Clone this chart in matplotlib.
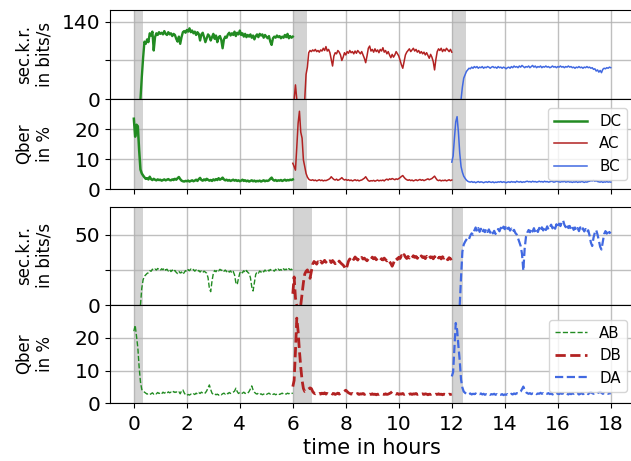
import numpy as np
import matplotlib
matplotlib.use("Agg")
import matplotlib.pyplot as plt

STEP = 0.05  # hours between samples

# ---------------- top group: DC / AC / BC ----------------
dc_sec_start = 0.25
dc_sec = [0, 40, 75, 104, 100,
          108, 103, 119, 115, 122, 88, 112, 119, 116, 121,
          118, 120, 117, 123, 118, 116, 121, 117, 119, 114,
          118, 116, 109, 104, 113, 100, 112, 121, 123, 120,
          125, 122, 128, 121, 124, 119, 122, 116, 121, 118,
          106, 117, 120, 112, 103, 110, 117, 114, 106, 112,
          118, 109, 115, 103, 112, 114, 107, 92, 108, 113,
          111, 117, 120, 115, 119, 116, 122, 114, 120, 117,
          124, 116, 119, 113, 118, 112, 116, 113, 117, 111,
          115, 108, 114, 117, 112, 118, 115, 117, 111, 116,
          113, 110, 114, 104, 98, 110, 113, 111, 115, 112,
          114, 110, 113, 111, 116, 112, 118, 110, 114, 111,
          113]

ac_sec_start = 6.00
ac_sec = [np.nan, 0, 26, 0, np.nan, np.nan, np.nan, np.nan, np.nan, 0,
          45, 58, 84, 88, 86, 89, 87, 90, 86, 88,
          85, 89, 87, 92, 88, 95, 87, 90, 84, 72,
          60, 78, 84, 82, 88, 85, 80, 70, 76, 84,
          80, 86, 83, 88, 84, 86, 82, 87, 83, 88,
          85, 82, 86, 80, 74, 66, 78, 92, 96, 87,
          90, 85, 91, 86, 89, 84, 90, 87, 93, 85,
          88, 82, 86, 80, 75, 81, 76, 80, 86, 82,
          78, 70, 62, 56, 68, 80, 85, 88, 91, 86,
          89, 92, 87, 90, 85, 88, 83, 86, 82, 85,
          80, 84, 79, 74, 81, 76, 68, 53, 72, 86,
          91, 88, 92, 86, 90, 87, 92, 89, 86, 90,
          85]

bc_sec_start = 12.35
bc_sec = [0, 22, 38,
          44, 50, 53, 56, 55, 58, 56, 59, 57, 59,
          56, 58, 57, 59, 56, 58, 57, 59, 58, 56,
          58, 59, 57, 58, 56, 59, 57, 58, 56, 58,
          57, 55, 57, 58, 56, 59, 57, 60, 58, 59,
          57, 60, 58, 61, 59, 57, 59, 58, 60, 57,
          59, 61, 58, 60, 57, 59, 58, 60, 57, 59,
          58, 60, 58, 59, 57, 58, 60, 58, 59, 57,
          59, 58, 60, 58, 59, 57, 59, 58, 60, 58,
          59, 57, 58, 56, 58, 57, 59, 57, 58, 56,
          58, 57, 59, 57, 58, 56, 57, 54, 55, 51,
          53, 49, 52, 48, 54, 56, 55, 57, 56, 58,
          57]

dc_qber_start = 0.00
dc_qber = [23.5, 17.5, 21.5, 21.0, 13.0, 6.5, 5.2, 4.5, 3.9, 3.4,
           3.6, 3.2, 4.1, 3.3, 3.0, 3.4, 3.1, 2.9, 3.2, 3.0,
           3.1, 2.8, 3.0, 3.2, 2.9, 3.1, 3.3, 3.0, 2.9, 3.2,
           3.0, 3.4, 3.1, 3.6, 4.0, 3.3, 2.8, 2.6, 2.5, 2.7,
           2.6, 2.8, 2.5, 2.7, 2.9, 2.6, 2.8, 3.1, 2.7, 3.3,
           3.7, 3.0, 2.8, 3.2, 2.9, 3.4, 3.1, 2.8, 3.0, 2.7,
           3.2, 2.9, 3.3, 3.0, 3.6, 3.1, 3.4, 3.8, 3.2, 2.9,
           3.1, 2.8, 3.0, 2.7, 2.9, 3.1, 2.8, 3.0, 2.7, 2.9,
           2.6, 2.8, 3.1, 2.7, 2.9, 2.6, 2.8, 2.5, 2.7, 2.9,
           2.6, 2.8, 2.5, 2.7, 2.6, 2.8, 2.5, 2.7, 2.9, 2.6,
           2.8, 2.7, 2.9, 3.4, 3.8, 3.1, 2.8, 3.0, 2.7, 2.9,
           2.8, 3.0, 2.7, 2.9, 3.1, 2.8, 3.0, 2.9, 3.1, 3.0,
           3.2]

ac_qber_start = 6.00
ac_qber = [8.6, 7.5, 6.3, 14.0, 22.0, 26.0, 19.0, 17.0, 9.7, 7.5,
           5.2, 4.0, 3.3, 3.0, 2.9, 3.1, 2.8, 3.0, 2.7, 2.9,
           3.1, 2.8, 3.0, 2.7, 2.9, 2.8, 3.0, 3.2, 3.5, 4.1,
           3.6, 3.2, 3.0, 3.3, 2.9, 3.1, 3.4, 3.8, 3.3, 3.0,
           3.2, 2.9, 3.1, 2.8, 3.0, 2.7, 2.9, 3.1, 2.8, 3.0,
           2.7, 2.9, 3.0, 3.3, 3.6, 4.1, 3.4, 2.8, 2.6, 2.8,
           2.7, 2.9, 2.6, 2.8, 3.0, 2.7, 2.9, 2.8, 3.0, 2.7,
           3.1, 3.3, 3.0, 3.4, 3.2, 3.5, 3.3, 3.1, 3.4, 3.2,
           3.5, 3.8, 4.2, 4.5, 3.9, 3.4, 3.1, 2.9, 3.1, 2.8,
           3.0, 2.7, 2.9, 3.1, 2.8, 3.0, 3.2, 2.9, 3.1, 2.8,
           3.0, 3.2, 3.4, 3.1, 3.3, 3.5, 3.9, 4.3, 3.6, 3.0,
           2.8, 3.0, 2.7, 2.9, 2.8, 3.0, 2.7, 2.9, 3.1, 2.8,
           3.0]

bc_qber_start = 12.00
bc_qber = [9.0, 11.0, 17.0, 22.5, 24.2, 19.0, 12.0, 7.5, 5.6, 4.3,
           3.6, 3.0, 2.6, 2.4, 2.3, 2.5, 2.2, 2.4, 2.1, 2.3,
           2.5, 2.2, 2.4, 2.3, 2.1, 2.3, 2.4, 2.2, 2.5, 2.3,
           2.2, 2.4, 2.1, 2.3, 2.2, 2.4, 2.3, 2.5, 2.2, 2.4,
           2.3, 2.1, 2.3, 2.4, 2.2, 2.5, 2.3, 2.4, 2.2, 2.6,
           2.4, 2.3, 2.5, 2.2, 2.4, 2.3, 2.5, 2.6, 2.4, 2.5,
           2.3, 2.6, 2.4, 2.5, 2.3, 2.4, 2.6, 2.4, 2.5, 2.3,
           2.6, 2.4, 2.5, 2.3, 2.4, 2.6, 2.5, 2.3, 2.4, 2.6,
           2.5, 2.4, 2.3, 2.5, 2.4, 2.6, 2.3, 2.4, 2.5, 2.3,
           2.4, 2.2, 2.4, 2.3, 2.5, 2.2, 2.4, 2.3, 2.5, 2.4,
           2.2, 2.4, 2.3, 2.5, 2.6, 2.8, 2.7, 2.9, 2.6, 2.8,
           2.5, 2.4, 2.3, 2.5, 2.2, 2.4, 2.3, 2.5, 2.3, 2.4,
           2.3]

# ---------------- bottom group: AB / DB / DA ----------------
ab_sec_start = 0.25
ab_sec = [0, 12, 18, 20.5, 21.5,
          22.5, 23.0, 24.5, 24.0, 25.5, 24.8, 25.6, 24.9, 26.0, 25.2,
          24.6, 25.8, 25.1, 26.3, 24.8, 25.5, 24.2, 25.3, 23.8, 24.9,
          23.6, 24.6, 23.2, 22.4, 23.9, 22.8, 23.5, 21.8, 23.1, 24.5,
          23.6, 25.2, 24.4, 25.6, 24.7, 25.3, 24.1, 25.0, 23.8, 24.6,
          23.5, 24.4, 23.2, 24.1, 23.4, 22.6, 19.5, 12.0, 9.5, 17.0,
          22.5, 24.6, 23.7, 25.1, 24.3, 25.4, 24.6, 25.2, 24.0, 24.9,
          23.7, 24.8, 23.4, 24.3, 22.8, 23.9, 21.5, 16.0, 14.5, 19.0,
          22.8, 24.1, 22.9, 24.4, 23.1, 24.6, 23.3, 22.4, 19.5, 13.0,
          10.0, 16.0, 21.8, 23.5, 22.7, 24.2, 23.4, 24.6, 23.6, 24.9,
          24.0, 25.1, 24.2, 25.3, 24.4, 25.0, 24.1, 25.4, 24.5, 25.6,
          24.7, 25.3, 24.4, 25.8, 25.0, 25.6, 24.6, 25.9, 25.1, 25.5,
          24.4]

db_sec_start = 6.00
db_sec = [8.0, 20.0, 5.0, 0.0, np.nan, np.nan, 0.0, 8.0, 16.0, 22.0,
          24.0, 25.0, 23.0, 19.0, 24.0, 29.0, 31.0, 30.2, 29.1, 30.8,
          29.5, 31.2, 29.8, 30.6, 31.8, 30.4, 32.1, 30.9, 31.5, 30.2,
          31.7, 30.6, 29.4, 30.8, 29.9, 31.3, 30.1, 29.2, 28.4, 27.1,
          25.3, 27.8, 31.2, 32.8, 31.6, 33.5, 32.4, 34.2, 33.1, 32.0,
          33.6, 32.5, 33.9, 32.7, 33.4, 32.3, 31.5, 32.8, 33.7, 32.6,
          34.1, 32.9, 33.8, 32.2, 33.5, 32.4, 31.8, 33.0, 32.1, 33.4,
          32.3, 31.4, 32.6, 30.9, 29.5, 27.6, 29.8, 32.5, 33.6, 32.4,
          34.0, 33.1, 35.2, 33.8, 35.9, 34.2, 33.1, 34.6, 33.4, 34.9,
          33.7, 35.1, 33.9, 34.6, 33.2, 34.8, 33.5, 35.0, 33.8, 34.4,
          33.0, 34.7, 33.4, 34.9, 33.6, 34.3, 32.9, 34.5, 33.2, 34.8,
          33.5, 34.1, 32.8, 34.4, 33.3, 34.6, 33.0, 32.2, 33.7, 32.6,
          33.2]

da_sec_start = 12.30
da_sec = [0.0, 20.0, 38.0, 43.0,
          45.0, 46.5, 48.0, 47.0, 49.5, 51.0, 50.0, 53.0, 55.2, 52.4,
          54.8, 52.1, 54.3, 51.7, 53.6, 51.9, 54.2, 52.0, 53.8, 51.5,
          53.2, 51.0, 52.8, 50.6, 52.3, 54.1, 52.5, 55.0, 53.2, 55.8,
          54.0, 56.6, 54.3, 55.1, 53.0, 54.4, 52.2, 53.5, 51.3, 50.2,
          47.5, 44.8, 42.0, 36.5, 24.5, 40.0, 48.5, 51.6, 53.4, 51.8,
          54.2, 52.3, 54.7, 51.9, 53.8, 52.0, 54.9, 52.6, 55.3, 53.1,
          55.6, 53.4, 56.0, 53.7, 55.4, 57.2, 54.6, 56.8, 54.3, 57.5,
          55.1, 57.9, 56.2, 59.0, 60.3, 57.1, 55.4, 57.6, 54.8, 56.3,
          53.9, 55.7, 53.5, 55.2, 53.0, 54.8, 52.6, 55.3, 53.1, 54.6,
          52.4, 54.1, 51.8, 53.2, 49.5, 44.5, 42.0, 48.0, 51.6, 53.4,
          50.2, 46.0, 41.5, 39.5, 45.0, 50.5, 52.6, 50.8, 53.5, 51.2,
          52.0]

ab_qber_start = 0.00
ab_qber = [22.0, 23.8, 20.5, 17.0, 11.0, 6.5, 4.2, 3.7, 3.4, 3.1,
           2.8, 3.0, 2.7, 2.9, 3.2, 2.8, 3.1, 2.9, 3.3, 3.0,
           3.2, 2.9, 3.4, 3.1, 3.3, 3.0, 3.5, 3.2, 3.4, 3.1,
           3.6, 3.3, 3.5, 3.2, 3.5, 2.9, 3.8, 4.1, 3.2, 2.6,
           2.4, 2.7, 2.5, 2.8, 2.6, 2.9, 2.7, 3.1, 2.8, 3.3,
           3.0, 3.4, 3.1, 2.9, 3.2, 3.8, 4.7, 5.6, 4.2, 3.1,
           2.7, 2.9, 2.6, 2.8, 2.5, 2.8, 2.6, 2.9, 3.1, 2.8,
           3.2, 2.9, 3.3, 3.0, 3.2, 3.4, 3.7, 4.6, 3.6, 3.0,
           3.2, 2.9, 3.1, 3.4, 3.0, 3.2, 3.1, 3.6, 4.4, 5.3,
           4.1, 3.4, 3.0, 2.8, 3.1, 2.7, 2.9, 2.6, 2.8, 3.0,
           2.7, 2.9, 3.1, 2.8, 3.0, 2.7, 2.9, 2.6, 2.8, 3.0,
           2.7, 2.9, 3.1, 2.8, 3.0, 2.8, 3.1, 2.9, 3.2, 3.0,
           3.1]

db_qber_start = 6.00
db_qber = [5.1, 7.0, 16.0, 26.0, 22.0, 16.0, 11.0, 7.0, 4.5, 3.6,
           3.8, 4.1, 4.4, 4.7, 4.5, 3.6, 3.1, 2.9, 3.1, 2.8,
           3.0, 2.8, 3.1, 2.9, 3.2, 2.8, 3.0, 2.7, 2.9, 3.1,
           2.8, 3.0, 2.7, 2.9, 3.1, 2.8, 3.0, 3.2, 3.4, 3.7,
           4.0, 3.6, 3.2, 3.0, 2.8, 3.0, 2.7, 2.9, 2.8, 3.0,
           2.7, 2.9, 2.8, 3.0, 2.7, 2.9, 2.8, 2.6, 2.8, 2.7,
           2.9, 2.7, 2.8, 2.6, 2.8, 2.7, 2.9, 2.6, 2.8, 2.7,
           2.9, 2.7, 2.8, 3.0, 3.2, 3.6, 3.3, 3.0, 2.8, 3.0,
           2.7, 2.9, 2.8, 3.0, 2.7, 2.9, 2.8, 2.6, 2.8, 2.9,
           2.7, 2.9, 2.8, 3.0, 2.7, 2.9, 2.6, 2.8, 2.9, 2.7,
           2.9, 2.8, 2.6, 2.8, 2.7, 2.9, 2.8, 2.6, 2.8, 2.7,
           2.9, 2.7, 2.8, 2.6, 2.8, 2.7, 2.9, 2.6, 2.8, 2.7,
           2.8]

da_qber_start = 12.00
da_qber = [8.2, 9.5, 17.0, 24.5, 22.5, 17.5, 13.0, 7.2, 4.8, 3.6,
           3.2, 2.9, 3.1, 2.8, 3.0, 2.7, 2.9, 2.8, 3.0, 2.7,
           2.9, 2.8, 3.0, 2.7, 2.9, 2.6, 2.8, 2.7, 2.9, 2.6,
           2.8, 2.7, 2.9, 2.6, 2.8, 2.5, 2.7, 2.6, 2.8, 2.5,
           2.7, 2.6, 2.8, 2.5, 2.7, 2.9, 2.7, 3.0, 2.8, 3.1,
           3.0, 3.3, 3.6, 4.3, 5.1, 4.0, 3.4, 3.1, 2.9, 3.1,
           2.8, 3.0, 2.9, 3.1, 2.8, 3.0, 2.9, 3.2, 2.9, 3.1,
           2.8, 3.0, 2.9, 3.1, 2.8, 3.0, 2.7, 2.9, 3.1, 2.8,
           3.0, 2.8, 3.1, 2.9, 3.0, 2.8, 3.1, 2.9, 2.7, 3.0,
           2.8, 3.0, 2.9, 3.1, 2.8, 3.0, 2.7, 2.9, 3.1, 2.8,
           3.0, 2.9, 3.1, 2.8, 3.2, 3.4, 3.1, 2.9, 3.0, 2.8,
           3.1, 3.3, 3.5, 3.2, 2.9, 3.1, 2.8, 3.0, 2.9, 3.1,
           2.9]

# key-exchange switching periods (hours)
top_switch = [(0.0, 0.34), (6.0, 6.53), (12.0, 12.53)]
bot_switch = [(0.0, 0.34), (6.0, 6.74), (12.0, 12.44)]

top_labels = ["DC", "AC", "BC"]
bot_labels = ["AB", "DB", "DA"]
x_ticks = [0, 2, 4, 6, 8, 10, 12, 14, 16, 18]


def times(start, vals):
    return start + STEP * np.arange(len(vals))


W, H = 631, 461
fig = plt.figure(figsize=(W / 100, H / 100), dpi=100)


def box(top, bottom, left=110, right=634.6):
    return [left / W, 1 - bottom / H, (right - left) / W, (bottom - top) / H]


ax1 = fig.add_axes(box(10, 99.3))
ax2 = fig.add_axes(box(99.3, 189), sharex=ax1)
ax3 = fig.add_axes(box(206.7, 305), sharex=ax1)
ax4 = fig.add_axes(box(305, 403.3), sharex=ax1)

green, red, blue = "forestgreen", "firebrick", "royalblue"

ax1.plot(times(dc_sec_start, dc_sec), dc_sec, color=green, lw=1.7)
ax1.plot(times(ac_sec_start, ac_sec), ac_sec, color=red, lw=1.1)
ax1.plot(times(bc_sec_start, bc_sec), bc_sec, color=blue, lw=1.1)

ax2.plot(times(dc_qber_start, dc_qber), dc_qber, color=green, lw=1.8, label=top_labels[0])
ax2.plot(times(ac_qber_start, ac_qber), ac_qber, color=red, lw=1.1, label=top_labels[1])
ax2.plot(times(bc_qber_start, bc_qber), bc_qber, color=blue, lw=1.1, label=top_labels[2])

ax3.plot(times(ab_sec_start, ab_sec), ab_sec, color=green, lw=1.0, ls="--")
ax3.plot(times(db_sec_start, db_sec), db_sec, color=red, lw=2.0, ls="--")
ax3.plot(times(da_sec_start, da_sec), da_sec, color=blue, lw=1.6, ls="--")

ax4.plot(times(ab_qber_start, ab_qber), ab_qber, color=green, lw=1.0, ls="--", label=bot_labels[0])
ax4.plot(times(db_qber_start, db_qber), db_qber, color=red, lw=2.0, ls="--", label=bot_labels[1])
ax4.plot(times(da_qber_start, da_qber), da_qber, color=blue, lw=1.6, ls="--", label=bot_labels[2])

for ax in (ax1, ax2):
    for a, b in top_switch:
        ax.axvspan(a, b, color="lightgray", lw=0, zorder=0.8)
for ax in (ax3, ax4):
    for a, b in bot_switch:
        ax.axvspan(a, b, color="lightgray", lw=0, zorder=0.8)

ax1.set_xlim(-0.9, 18.9)
ax1.set_xticks(x_ticks)

ax1.set_ylim(0, 161)
ax1.set_yticks([0, 70, 140])
ax1.set_yticklabels(["0", "", "140"])
ax3.set_ylim(0, 70)
ax3.set_yticks([0, 25, 50])
ax3.set_yticklabels(["0", "", "50"])
for ax in (ax2, ax4):
    ax.set_ylim(0, 30)
    ax.set_yticks([0, 10, 20])

for ax in (ax1, ax2, ax3, ax4):
    ax.grid(True, color="#b0b0b0", lw=1.0, alpha=0.8)
    ax.tick_params(axis="both", labelsize=14.5)
    ax.tick_params(axis="x", pad=5)
for ax in (ax1, ax3):
    ax.tick_params(axis="x", bottom=False, labelbottom=False)
ax2.tick_params(axis="x", labelbottom=False)

ax1.set_ylabel("sec.k.r.\nin bits/s", fontsize=12)
ax3.set_ylabel("sec.k.r.\nin bits/s", fontsize=12)
ax2.set_ylabel("Qber\nin %", fontsize=12)
ax4.set_ylabel("Qber\nin %", fontsize=12)
for ax in (ax1, ax2, ax3, ax4):
    ax.yaxis.set_label_coords(-0.107, 0.5)

ax4.set_xlabel("time in hours", fontsize=15, labelpad=3)

ax2.legend(loc="lower right", fontsize=10.8, handlelength=2.18,
           bbox_to_anchor=(1.0, 0.017))
ax4.legend(loc="lower right", fontsize=10.8, handlelength=2.18,
           bbox_to_anchor=(1.0, 0.042))

fig.savefig("out.png", dpi=100)
